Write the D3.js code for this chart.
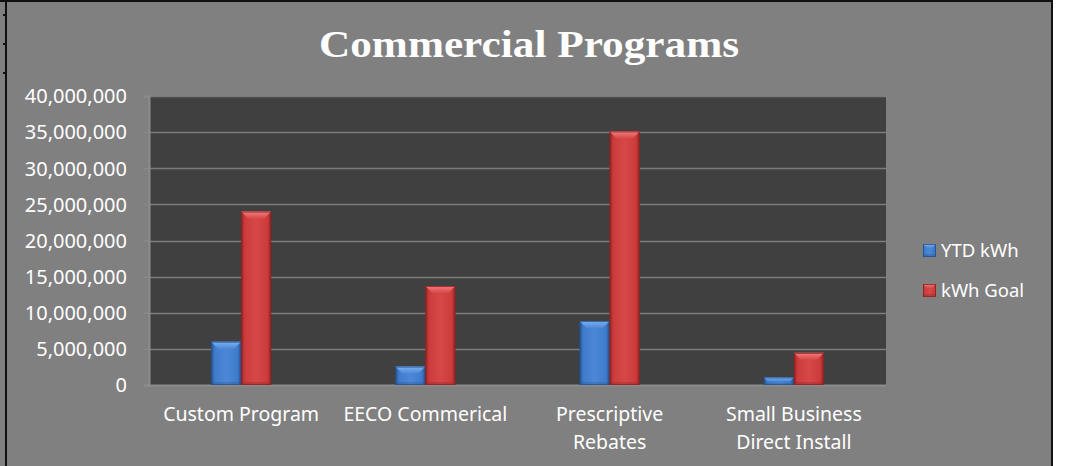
<!DOCTYPE html>
<html>
<head>
<meta charset="utf-8">
<script src="https://cdn.jsdelivr.net/npm/d3@7"></script>
<style>
  html, body { margin: 0; padding: 0; background: #ffffff; }
  svg { display: block; }
  text { font-family: "Noto Sans", "Open Sans", sans-serif; fill: #ffffff; }
</style>
</head>
<body>
<svg id="chart" width="1071" height="466"></svg>
<script>
// Program names along the x axis (line breaks where labels wrap)
const categories = ["Custom Program", "EECO Commerical", "Prescriptive Rebates", "Small Business Direct Install"];
const categoryLines = [["Custom Program"], ["EECO Commerical"], ["Prescriptive", "Rebates"], ["Small Business", "Direct Install"]];
// Series
const seriesNames = ["YTD kWh", "kWh Goal"];
const ytdKwh = [6000000, 2550000, 8850000, 1050000];
const kwhGoal = [24000000, 13700000, 35100000, 4450000];
// Value axis ticks
const yTicks = [0, 5000000, 10000000, 15000000, 20000000, 25000000, 30000000, 35000000, 40000000];

const seriesValues = [ytdKwh, kwhGoal];
const palette = [
  { body: "#3f7bcb", light: "#7cb1f2", dark: "#24528f", mid: "#4d88d6" },
  { body: "#cc3b3b", light: "#f47c7c", dark: "#8f2323", mid: "#d64848" }
];

const svg = d3.select("#chart");
const H = 466;

// Chart frame
svg.append("rect").attr("x", 0).attr("y", 0).attr("width", 1052).attr("height", H).attr("fill", "#808080");
svg.append("rect").attr("x", 0).attr("y", 0).attr("width", 1053).attr("height", 2).attr("fill", "#111");
svg.append("rect").attr("x", 5).attr("y", 0).attr("width", 2).attr("height", H).attr("fill", "#111");
svg.append("rect").attr("x", 1051).attr("y", 0).attr("width", 2).attr("height", H).attr("fill", "#111");
[14, 43, 72].forEach(yy => svg.append("rect").attr("x", 3).attr("y", yy).attr("width", 2).attr("height", 2).attr("fill", "#111"));

const plot = { left: 149, right: 886, top: 96, bottom: 385 };

const x = d3.scaleBand().domain(categories).range([plot.left, plot.right]).paddingInner(0).paddingOuter(0);
const y = d3.scaleLinear().domain([0, 40000000]).range([plot.bottom, plot.top]);
const groupW = x.bandwidth() * 0.326;
const x1 = d3.scaleBand().domain(seriesNames).range([-groupW / 2, groupW / 2]).padding(0);

// Plot area
svg.append("rect")
  .attr("x", plot.left).attr("y", plot.top)
  .attr("width", plot.right - plot.left).attr("height", plot.bottom - plot.top)
  .attr("fill", "#404040");

// Gridlines
svg.append("g").selectAll("line").data(yTicks.filter(d => d > 0)).join("line")
  .attr("x1", plot.left).attr("x2", plot.right)
  .attr("y1", d => Math.round(y(d)) + 0.5).attr("y2", d => Math.round(y(d)) + 0.5)
  .attr("stroke", "#7c7c7c").attr("stroke-width", 1.6);

// Value axis
const yAxis = d3.axisLeft(y).tickValues(yTicks).tickFormat(d3.format(",")).tickSize(5).tickPadding(17);
const yg = svg.append("g").attr("transform", `translate(${plot.left},0)`).call(yAxis);
yg.select(".domain").attr("stroke", "#8c8c8c").attr("stroke-width", 2);
yg.selectAll(".tick line").attr("stroke", "#8c8c8c");
yg.selectAll(".tick text").attr("fill", "#ffffff").style("font-size", "20px").attr("dy", "0.34em")
  .style("font-family", '"Noto Sans", sans-serif');

// Category axis baseline
svg.append("line").attr("x1", plot.left - 4).attr("x2", plot.right)
  .attr("y1", plot.bottom + 0.5).attr("y2", plot.bottom + 0.5)
  .attr("stroke", "#8c8c8c").attr("stroke-width", 2);

// Gradients for beveled bars
const defs = svg.append("defs");
palette.forEach((p, i) => {
  const g = defs.append("linearGradient").attr("id", "bodyGrad" + i).attr("x1", 0).attr("x2", 1).attr("y1", 0).attr("y2", 0);
  g.append("stop").attr("offset", "0%").attr("stop-color", p.dark);
  g.append("stop").attr("offset", "12%").attr("stop-color", p.body);
  g.append("stop").attr("offset", "50%").attr("stop-color", p.mid);
  g.append("stop").attr("offset", "88%").attr("stop-color", p.body);
  g.append("stop").attr("offset", "100%").attr("stop-color", p.dark);
  const t = defs.append("linearGradient").attr("id", "topGrad" + i).attr("x1", 0).attr("x2", 0).attr("y1", 0).attr("y2", 1);
  t.append("stop").attr("offset", "0%").attr("stop-color", p.light);
  t.append("stop").attr("offset", "100%").attr("stop-color", p.mid);
});

function bevelBar(g, x0, y0, w, h, i, bev) {
  const p = palette[i];
  const b = Math.min(bev, h / 2, w / 2);
  g.append("rect").attr("x", x0).attr("y", y0).attr("width", w).attr("height", h).attr("fill", `url(#bodyGrad${i})`);
  // top bevel
  g.append("polygon")
    .attr("points", [[x0, y0], [x0 + w, y0], [x0 + w - b, y0 + b], [x0 + b, y0 + b]].map(q => q.join(",")).join(" "))
    .attr("fill", `url(#topGrad${i})`);
  // soft shading at the base
  g.append("rect").attr("x", x0).attr("y", y0 + h - Math.min(3, h / 3)).attr("width", w).attr("height", Math.min(3, h / 3))
    .attr("fill", p.dark).attr("opacity", 0.3);
  g.append("rect").attr("x", x0 + 0.5).attr("y", y0 + 0.5).attr("width", w - 1).attr("height", h - 1)
    .attr("fill", "none").attr("stroke", p.dark).attr("stroke-width", 1).attr("opacity", 0.8);
}

// Bars
const barsG = svg.append("g");
categories.forEach((c, ci) => {
  const cx = x(c) + x.bandwidth() / 2;
  seriesNames.forEach((s, si) => {
    const v = seriesValues[si][ci];
    const x0 = cx + x1(s);
    const y0 = y(v);
    bevelBar(barsG, x0, y0, x1.bandwidth(), plot.bottom - y0, si, 7);
  });
});

// Category labels
const xl = svg.append("g");
categories.forEach((c, ci) => {
  const cx = x(c) + x.bandwidth() / 2;
  const t = xl.append("text").attr("x", cx).attr("y", 421).attr("text-anchor", "middle").style("font-size", "19.5px");
  categoryLines[ci].forEach((line, li) => {
    t.append("tspan").attr("x", cx).attr("dy", li === 0 ? 0 : 28).text(line);
  });
});

// Title
svg.append("text").attr("x", 529).attr("y", 57).attr("text-anchor", "middle")
  .style("font-family", '"Liberation Serif", "DejaVu Serif", serif')
  .style("font-weight", "bold").style("font-size", "38px")
  .attr("textLength", 420).attr("lengthAdjust", "spacingAndGlyphs")
  .text("Commercial Programs");

// Legend
const lg = svg.append("g");
seriesNames.forEach((s, i) => {
  const ly = 244 + i * 40;
  bevelBar(lg, 923, ly, 13, 13, i, 4);
  lg.append("text").attr("x", 941).attr("y", ly + 13).style("font-size", "18.5px").text(s);
});
</script>
</body>
</html>
